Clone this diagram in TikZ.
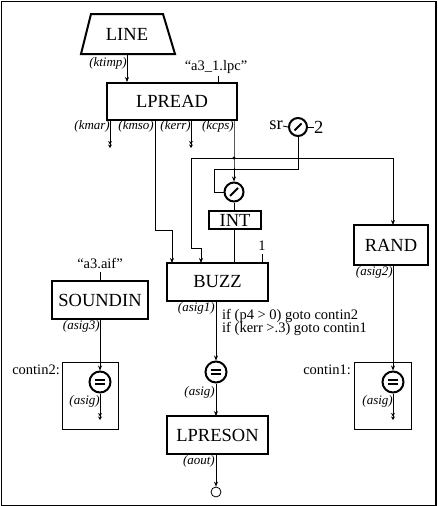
\documentclass[tikz,border=0pt]{standalone}
\usepackage{fontspec}
\setmainfont{Liberation Serif}
\usetikzlibrary{arrows.meta}
\begin{document}
\begin{tikzpicture}[x=1pt,y=-1pt,
  box/.style={draw, line width=2pt, inner sep=0pt, font=\fontsize{18.5}{20}\selectfont},
  big/.style={font=\fontsize{18.5}{20}\selectfont, inner sep=0pt},
  lbl/.style={font=\fontsize{13}{14}\selectfont\itshape, inner sep=0pt},
  mid/.style={font=\fontsize{14.5}{16}\selectfont, inner sep=0pt},
  wire/.style={line width=0.8pt},
  arr/.style={wire, -{Stealth[length=5pt,width=4pt]}},
  dangle/.style={wire, -{Stealth[length=3.5pt,width=4pt]Stealth[length=3.5pt,width=4pt]}},
  opc/.style={circle, draw, line width=2pt, minimum size=19pt, inner sep=0pt},
  eqc/.style={opc, minimum size=21pt},
  thinbox/.style={draw, line width=0.8pt}
]
\useasboundingbox (0,0) rectangle (438,506);
% outer frame
\draw[line width=1pt] (1,1) rectangle (436,505);
\draw[line width=2pt] (436,1) -- (436,505);

% LINE
\draw[line width=2pt] (81,54) -- (91,14) -- (163,14) -- (175,54) -- cycle;
\node[big] (LINE) at (127,34) {LINE};
\coordinate (LINEb) at (127,54);

% LPREAD
\node[box, minimum width=130pt, minimum height=37pt] (LPREAD) at (172,101.5) {LPREAD};
\draw[arr] (LINEb) -- (LINEb |- LPREAD.north);
\node[lbl, anchor=east] (ktimp) at (127,63) {(ktimp)};
\node[mid] (lpc) at (216,67) {“a3\_1.lpc”};
\draw[wire] (218,76) -- (218,83);

% LPREAD outputs
\coordinate (kmarb) at (110,148);
\draw[dangle] (110,120) -- (kmarb);
\node[lbl, anchor=east] (kmar) at (110,126) {(kmar)};
\node[lbl, anchor=east] (kmso) at (154,126) {(kmso)};
\coordinate (kerrb) at (191,148);
\draw[dangle] (191,120) -- (kerrb);
\node[lbl, anchor=east] (kerr) at (191,126) {(kerr)};
\node[lbl, anchor=east] (kcps) at (234,126) {(kcps)};

% BUZZ
\node[box, minimum width=101pt, minimum height=38pt] (BUZZ) at (217.5,282) {BUZZ};
% kmso to BUZZ
\draw[arr] (155,120) -- (155,230) -- (172,230) -- (172,263);

% divide circle and INT
\node[opc] (div) at (234,192) {};
\draw[line width=2pt] (div.center) ++(-4,4) -- ++(8,-8);
\coordinate (junc) at (234,158);
\draw[arr] (234,120) -- (junc) -- (div.north);
\fill (junc) circle (1.6pt);
\draw[arr] (junc) -- (191,158) -- (191,248) -- (201,248) -- (201,263);

% sr / 2 circle
\node[opc, minimum size=18pt] (srdiv) at (298,127) {};
\draw[line width=2pt] (srdiv.center) ++(-3.5,3.5) -- ++(7,-7);
\node[big, anchor=east] (sr) at (283,125) {sr};
\node[big, anchor=west] (two) at (314,127) {2};
\draw[wire] (sr.east) ++(0,1) -- (srdiv.west);
\draw[wire] (srdiv.east) -- (two.west);
\draw[wire] (srdiv.south) -- (298,169) -- (214,169) -- (214,192) -- (div.west);

\node[box, minimum width=52pt, minimum height=18pt] (INT) at (235,220) {INT};
\draw[wire] (div.south) -- (div.south |- INT.north);
\draw[wire] (234,229) -- (234,263);
\node[mid] (one) at (262,246) {1};
\draw[wire] (262,254) -- (262,263);

% RAND
\node[box, minimum width=74pt, minimum height=40pt] (RAND) at (391,245) {RAND};
\draw[arr] (junc) -- (393,158) -- (393,225);
\node[lbl, anchor=east] (asig2) at (393,272) {(asig2)};

% SOUNDIN
\node[box, minimum width=96pt, minimum height=38pt] (SOUNDIN) at (100,300) {SOUNDIN};
\node[mid] (aif) at (100,263) {“a3.aif”};
\draw[wire] (100,272) -- (SOUNDIN.north);
\node[lbl, anchor=east] (asig3) at (100,326) {(asig3)};

% BUZZ outputs
\node[lbl, anchor=east] (asig1) at (215,308) {(asig1)};
\node[mid, anchor=north west, align=left] (cond) at (222,309)
  {if (p4 > 0) goto contin2\\[-3pt]if (kerr >.3) goto contin1};

% middle eq circle
\node[eqc] (eqm) at (216,372) {};
\draw[arr] (216,301) -- (eqm.north);
\node[lbl, anchor=east] (asigm) at (215,392) {(asig)};

% LPRESON
\node[box, minimum width=101pt, minimum height=38pt] (LPRESON) at (217.5,435) {LPRESON};
\draw[arr] (eqm.south) -- (216,416);
\node[lbl, anchor=east] (aout) at (215,461) {(aout)};
\node[circle, draw, line width=0.8pt, minimum size=10pt, inner sep=0pt] (outc) at (216,492) {};
\draw[arr] (216,454) -- (outc.north);

% contin2 box
\draw[thinbox] (62,362) rectangle (118,429);
\node[mid, anchor=east] (c2) at (60,370) {contin2:};
\node[eqc] (eq2) at (100,382) {};
\draw[arr] (100,319) -- (eq2.north);
\coordinate (eq2b) at (100,420);
\draw[dangle] (eq2.south) -- (eq2b);
\node[lbl, anchor=east] (asig2b) at (100,401) {(asig)};

% contin1 box
\draw[thinbox] (354,362) rectangle (411,429);
\node[mid, anchor=east] (c1) at (351,370) {contin1:};
\node[eqc] (eq1) at (393,382) {};
\draw[arr] (393,265) -- (eq1.north);
\coordinate (eq1b) at (393,420);
\draw[dangle] (eq1.south) -- (eq1b);
\node[lbl, anchor=east] (asig1b) at (393,401) {(asig)};

% equal signs
\foreach \c in {eqm,eq2,eq1}{
  \draw[line width=2pt] (\c.center) ++(-5,-2.2) -- ++(10,0);
  \draw[line width=2pt] (\c.center) ++(-5,2.2) -- ++(10,0);
}
\end{tikzpicture}
\end{document}
